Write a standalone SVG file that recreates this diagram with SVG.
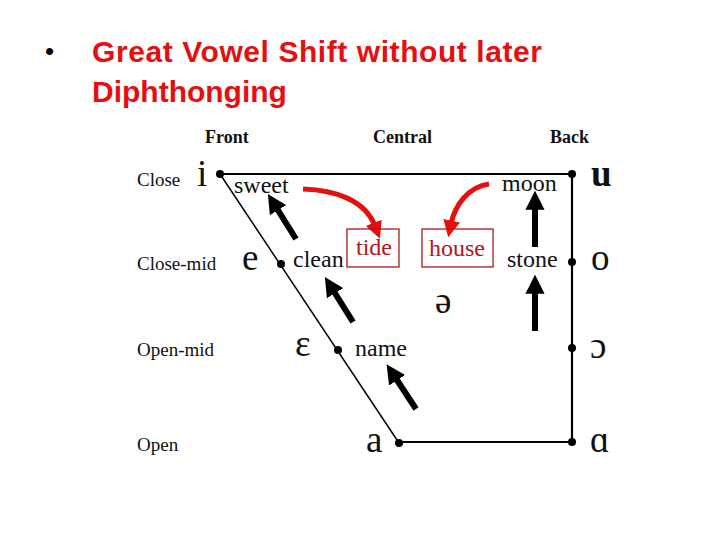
<svg xmlns="http://www.w3.org/2000/svg" width="720" height="540" viewBox="0 0 720 540">
<defs>
<style>
.title{font-family:"Liberation Sans",Arial,sans-serif;font-weight:bold;font-size:30px;fill:#e60f0f}
.bul{font-family:"Liberation Sans",Arial,sans-serif;font-size:26px;fill:#000}
.hdr{font-family:"Liberation Serif","Times New Roman",serif;font-weight:bold;font-size:18px;fill:#111}
.row{font-family:"Liberation Serif","Times New Roman",serif;font-size:19px;fill:#111}
.vow{font-family:"Liberation Serif","DejaVu Serif",serif;font-size:37px;fill:#111}
.word{font-family:"Liberation Serif","Times New Roman",serif;font-size:24px;fill:#111}
.rword{font-family:"Liberation Serif","Times New Roman",serif;font-size:24px;fill:#b01818}
.box{fill:none;stroke:#b01818;stroke-width:1.3}
.edge{stroke:#000;stroke-width:2.2;fill:none}
.diag{stroke:#000;stroke-width:1.5;fill:none}
.dot{fill:#000}
.barr{stroke:#000;stroke-width:6;fill:none;marker-end:url(#bh)}
.rarr{stroke:#e60f0f;stroke-width:5;fill:none;marker-end:url(#rh)}
</style>
<marker id="bh" viewBox="0 0 10 10" refX="2" refY="5" markerWidth="3.2" markerHeight="3.4" orient="auto" markerUnits="strokeWidth"><path d="M0,0 L10,5 L0,10 z" fill="#000"/></marker>
<marker id="rh" viewBox="0 0 10 10" refX="2" refY="5" markerWidth="3.4" markerHeight="3.4" orient="auto" markerUnits="strokeWidth"><path d="M0,0 L10,5 L0,10 z" fill="#e60f0f"/></marker>
</defs>
<rect width="720" height="540" fill="#fff"/>
<g id="title">
<text x="45" y="60" class="bul">•</text>
<text x="92" y="62" class="title" textLength="450" lengthAdjust="spacing">Great Vowel Shift without later</text>
<text x="92" y="102" class="title">Diphthonging</text>
</g>
<g id="headers">
<text x="205" y="143" class="hdr">Front</text>
<text x="373" y="143" class="hdr">Central</text>
<text x="550" y="143" class="hdr">Back</text>
<text x="137" y="186" class="row">Close</text>
<text x="137" y="270" class="row">Close-mid</text>
<text x="137" y="356" class="row">Open-mid</text>
<text x="137" y="451" class="row">Open</text>
</g>
<g id="connectors">
<path class="edge" d="M220,174 H572 V442 H399"/>
<path class="diag" d="M220,174 L399,443"/>
<path class="barr" d="M296,239 L276,207"/>
<path class="barr" d="M353,322 L333,290"/>
<path class="barr" d="M416,409 L395,377"/>
<path class="barr" d="M535,247 L535,206"/>
<path class="barr" d="M535,331 L535,290"/>
<path class="rarr" d="M303,189 C335,190 365,200 375,226"/>
<path class="rarr" d="M489,184 C468,187 455,205 451,224"/>
</g>
<g id="vowel-i"><circle class="dot" cx="220" cy="174" r="4"/><text x="197" y="186" class="vow">i</text></g>
<g id="vowel-e"><circle class="dot" cx="281" cy="264" r="4"/><text x="242" y="270" class="vow">e</text></g>
<g id="vowel-epsilon"><circle class="dot" cx="338" cy="350" r="4"/><text x="295" y="356" class="vow">ɛ</text></g>
<g id="vowel-a"><circle class="dot" cx="399" cy="443" r="4"/><text x="366" y="452" class="vow">a</text></g>
<g id="vowel-u"><circle class="dot" cx="572" cy="174" r="4"/><text x="591" y="186" class="vow" font-weight="bold">u</text></g>
<g id="vowel-o"><circle class="dot" cx="572" cy="262" r="4"/><text x="591" y="270" class="vow">o</text></g>
<g id="vowel-openo"><circle class="dot" cx="572" cy="348" r="4"/><text x="590" y="358" class="vow">ɔ</text></g>
<g id="vowel-alpha"><circle class="dot" cx="572" cy="442" r="4"/><text x="590" y="452" class="vow">ɑ</text></g>
<g id="vowel-schwa"><text x="435" y="313" class="vow" font-size="26">ə</text></g>
<g id="word-sweet"><text x="234" y="193" class="word">sweet</text></g>
<g id="word-moon"><text x="502" y="191" class="word">moon</text></g>
<g id="word-clean"><text x="293" y="267" class="word">clean</text></g>
<g id="word-stone"><text x="507" y="267" class="word">stone</text></g>
<g id="word-name"><text x="355" y="356" class="word">name</text></g>
<g id="word-tide"><rect class="box" x="347" y="229" width="52" height="38"/><text x="356" y="255" class="rword">tide</text></g>
<g id="word-house"><rect class="box" x="422" y="229" width="71" height="38"/><text x="429" y="256" class="rword">house</text></g>
</svg>
